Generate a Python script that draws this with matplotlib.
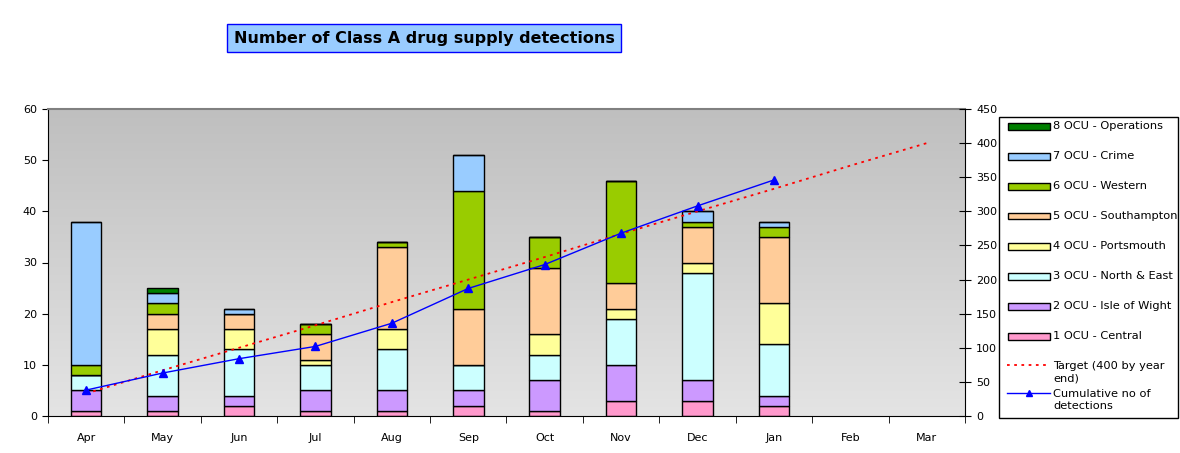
import numpy as np
import matplotlib
matplotlib.use("Agg")
import matplotlib.pyplot as plt
from matplotlib.colors import LinearSegmentedColormap
from matplotlib.patches import Rectangle
from matplotlib.lines import Line2D

months = ["Apr", "May", "Jun", "Jul", "Aug", "Sep", "Oct", "Nov", "Dec", "Jan", "Feb", "Mar"]

central     = [1, 1, 2, 1, 1, 2, 1, 3, 3, 2]
isle_wight  = [4, 3, 2, 4, 4, 3, 6, 7, 4, 2]
north_east  = [3, 8, 9, 5, 8, 5, 5, 9, 21, 10]
portsmouth  = [0, 5, 4, 1, 4, 0, 4, 2, 2, 8]
southampton = [0, 3, 3, 5, 16, 11, 13, 5, 7, 13]
western     = [2, 2, 0, 2, 1, 23, 6, 20, 1, 2]
crime       = [28, 2, 1, 0, 0, 7, 0, 0, 2, 1]
operations  = [0, 1, 0, 0, 0, 0, 0, 0, 0, 0]

cumulative = [38, 63, 84, 102, 136, 187, 222, 268, 308, 346]
target = [33, 67, 100, 133, 167, 200, 233, 267, 300, 333, 367, 400]

series = [
    ("1 OCU - Central", central, "#ff99cc"),
    ("2 OCU - Isle of Wight", isle_wight, "#cc99ff"),
    ("3 OCU - North & East", north_east, "#ccffff"),
    ("4 OCU - Portsmouth", portsmouth, "#ffff99"),
    ("5 OCU - Southampton", southampton, "#ffcc99"),
    ("6 OCU - Western", western, "#99cc00"),
    ("7 OCU - Crime", crime, "#99ccff"),
    ("8 OCU - Operations", operations, "#008000"),
]

W, H = 1180, 453
plt.rcParams["font.family"] = "DejaVu Sans"


def px(x, y):
    # pixel position -> figure fraction
    return x / W, 1 - y / H


fig = plt.figure(figsize=(W / 100, H / 100), dpi=100)
ax = fig.add_axes([48 / W, 1 - 416 / H, (965 - 48) / W, (416 - 109) / H])

# gradient plot background
cmap = LinearSegmentedColormap.from_list("bg", ["#e4e4e4", "#bfbfbf"])
grad = np.linspace(0, 1, 256).reshape(-1, 1)
ax.imshow(grad, cmap=cmap, origin="lower", extent=[-0.5, 11.5, 0, 60],
          aspect="auto", zorder=0)

x = np.arange(len(central))
bottom = np.zeros(len(central))
for label, vals, col in series:
    vals = np.array(vals)
    ax.bar(x, vals, 0.4, bottom=bottom, color=col, edgecolor="black",
           linewidth=1.0, zorder=2)
    bottom += vals

ax.set_xlim(-0.5, 11.5)
ax.set_ylim(0, 60)
ax.set_yticks(range(0, 61, 10))
ax.set_xticks(range(12))
ax.set_xticklabels(months)
ax.set_xticks(np.arange(-0.5, 12, 1), minor=True)
ax.tick_params(axis="x", which="major", length=0, pad=12, labelsize=8)
ax.tick_params(axis="x", which="minor", length=5, direction="out")
ax.tick_params(axis="y", length=4, direction="out", labelsize=8, pad=4)
ax.spines["top"].set_color("#808080")
ax.spines["top"].set_linewidth(1.5)
ax.spines["right"].set_visible(False)

ax2 = ax.twinx()
ax2.set_ylim(0, 450)
ax2.set_yticks(range(0, 451, 50))
ax2.tick_params(axis="y", length=8, direction="inout", labelsize=8, pad=4)
for s in ["top", "left", "bottom"]:
    ax2.spines[s].set_visible(False)
dots = (0, (1.5, 2.5))
ax2.plot(np.arange(12), target, color="red", linestyle=dots,
         linewidth=1.3, zorder=3)
ax2.plot(x, cumulative, color="blue", linewidth=1.0, marker="^",
         markersize=6, zorder=4)

# legend, drawn by hand to get Excel's spacing
tf = fig.transFigure
x0, y0 = px(999, 418)
x1, y1 = px(1178, 117)
fig.patches.append(Rectangle((x0, y0), x1 - x0, y1 - y0, transform=tf,
                             facecolor="white", edgecolor="black", lw=1.0))
for i, (label, vals, col) in enumerate(series[::-1]):
    yc = 126 + 30 * i
    rx, ry = px(1008, yc + 3.5)
    fig.patches.append(Rectangle((rx, ry), 42 / W, 7 / H, transform=tf,
                                 facecolor=col, edgecolor="black", lw=1.0))
    fig.text(*px(1053, yc), label, fontsize=8.2, va="center", ha="left")

xa, ya = px(1007, 365)
xb, _ = px(1050, 365)
fig.lines.append(Line2D([xa, xb], [ya, ya], transform=tf, color="red",
                        linestyle=dots, linewidth=1.3))
fig.text(*px(1053, 372), "Target (400 by year\nend)", fontsize=8.2,
         va="center", ha="left", linespacing=1.3)

xa, ya = px(1007, 393)
fig.lines.append(Line2D([xa, xb], [ya, ya], transform=tf, color="blue",
                        linewidth=1.0))
fig.lines.append(Line2D([(xa + xb) / 2], [ya], transform=tf, color="blue",
                        marker="^", markersize=5))
fig.text(*px(1053, 400), "Cumulative no of\ndetections", fontsize=8.2,
         va="center", ha="left", linespacing=1.3)

fig.text(424 / W, 1 - 38 / H, "Number of Class A drug supply detections",
         ha="center", va="center", fontsize=11.5, fontweight="bold",
         bbox=dict(boxstyle="square,pad=0.4", facecolor="#99ccff",
                   edgecolor="#0000ff", linewidth=1.0))

fig.savefig("out.png", dpi=100)
